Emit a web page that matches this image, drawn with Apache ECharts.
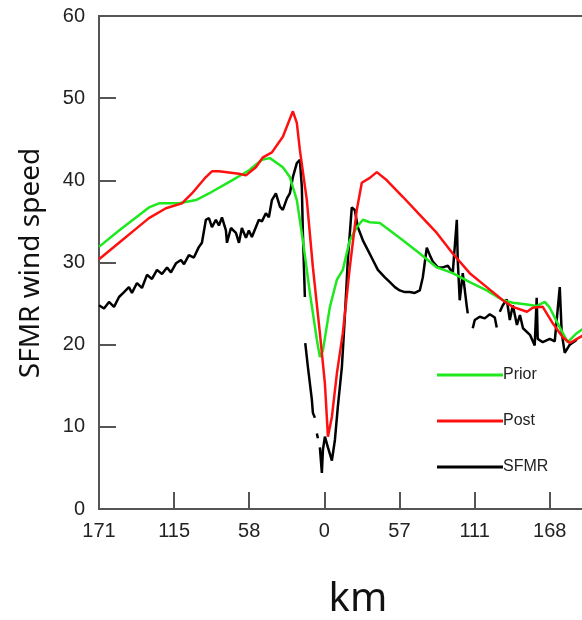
<!DOCTYPE html>
<html>
<head>
<meta charset="utf-8">
<script src="https://cdn.jsdelivr.net/npm/echarts@6/dist/echarts.min.js"></script>
<style>html,body{margin:0;padding:0;background:#fff}#c{width:582px;height:620px}</style>
</head>
<body>
<div id="c"></div>
<script>
// x positions in km along track (negative = left of centre), tick labels as printed
const xTickLabels = ['171', '115', '58', '0', '57', '111', '168'];
const yTicks = [0, 10, 20, 30, 40, 50, 60];

const priorX = [-171, -155.8, -133.1, -125.5, -110.3, -97.4, -87.6, -70.1, -57.3, -47.4, -41.3, -31.5, -26.2, -20.9, -16.3, -11.0, -5.7, -3.4, -1.1, 4.2, 9.5, 14.0, 19.3, 24.6, 29.2, 34.5, 42.1, 49.7, 59.5, 72.4, 85.3, 97.4, 110.3, 123.2, 135.4, 143.0, 153.7, 161.1, 167.2, 171.0, 178.6, 184.6, 191.5, 197];
const priorY = [31.9, 33.9, 36.7, 37.2, 37.2, 37.6, 38.4, 40.0, 41.2, 42.5, 42.7, 41.6, 40.4, 37.6, 32.7, 26.3, 20.6, 18.5, 19.3, 24.6, 27.9, 29.1, 32.7, 34.3, 35.2, 34.9, 34.8, 33.9, 32.7, 31.1, 29.4, 28.7, 27.6, 26.6, 25.4, 25.1, 24.9, 24.7, 25.2, 24.5, 22.1, 20.3, 21.4, 22.0];

const postX = [-171, -155.8, -146.0, -133.1, -120.2, -108.1, -100.5, -89.9, -85.3, -80.0, -64.8, -59.5, -52.0, -46.6, -39.8, -31.5, -23.9, -20.9, -18.6, -13.3, -8.7, -3.4, 0.4, 2.7, 5.7, 9.5, 14.0, 19.3, 24.6, 28.4, 34.5, 39.8, 47.4, 59.5, 72.4, 85.3, 97.4, 110.3, 123.2, 135.4, 143.0, 153.7, 158.1, 165.7, 173.3, 180.9, 186.2, 197];
const postY = [30.4, 32.4, 33.7, 35.4, 36.6, 37.2, 38.4, 40.4, 41.1, 41.1, 40.8, 40.6, 41.6, 42.8, 43.4, 45.3, 48.4, 47.0, 43.7, 37.6, 29.4, 21.4, 15.3, 8.8, 11.2, 16.5, 21.4, 29.4, 36.4, 39.7, 40.3, 41.0, 40.0, 38.0, 35.8, 33.6, 31.1, 28.7, 27.0, 25.4, 24.6, 24.0, 24.5, 24.6, 22.6, 20.9, 20.2, 21.2];

// SFMR observations; null marks a gap in the record
const sfmrX = [-171, -167.2, -163.4, -159.6, -155.8, -152.0, -148.3, -146.0, -142.2, -138.4, -134.6, -130.8, -127.0, -123.2, -119.4, -116.4, -112.6, -108.8, -106.5, -102.8, -99.0, -95.2, -92.9, -89.9, -87.6, -85.3, -82.3, -80.0, -77.7, -74.7, -73.9, -70.9, -67.1, -64.8, -62.6, -59.5, -57.3, -55.0, -52.0, -49.7, -47.4, -44.4, -42.1, -39.8, -36.8, -36.0, -33.7, -31.5, -28.4, -26.2, -23.9, -20.9, -18.6, -17.1, -16.3, -14.8,
  -14.6,
  -14.5, -12.5, -9.5, -8.7, -7.2,
  -6.5,
  -5.7, -4.9,
  -4.2,
  -3.4, -1.9, -1.1, 0.4, 2.7, 5.7, 8.0, 10.2, 13.3, 15.5, 17.8, 20.8, 23.1, 25.4, 29.2, 33.0, 36.8, 40.6, 45.9, 49.7, 53.5, 57.2, 61.0, 64.8, 68.6, 72.4, 74.7, 77.7, 80.0, 82.3, 86.1, 89.9, 93.7, 97.4, 100.5, 101.2, 102.7, 105.0, 108.1, 108.8,
  110.7,
  112.6, 114.1, 117.9, 121.7, 125.5, 129.3, 130.8,
  132.0,
  133.1, 135.4, 138.4, 140.7, 143.0, 146.1, 148.4, 150.7, 156.0, 159.6, 161.1, 161.9, 165.7, 171.0, 174.8, 178.6, 180.1, 182.4, 186.2, 191.5];
const sfmrY = [24.8, 24.4, 25.2, 24.6, 25.8, 26.4, 27.0, 26.3, 27.5, 26.9, 28.5, 28.0, 29.1, 28.6, 29.4, 28.8, 29.9, 30.3, 29.8, 30.9, 30.6, 31.9, 32.4, 35.2, 35.4, 34.3, 35.2, 34.5, 35.5, 33.9, 32.4, 34.2, 33.6, 32.4, 34.2, 33.0, 33.9, 33.1, 34.3, 35.2, 35.0, 36.0, 35.5, 37.6, 38.4, 38.2, 36.8, 36.4, 37.8, 38.4, 40.4, 42.1, 42.5, 39.2, 33.6, 25.8,
  null,
  20.2, 17.3, 13.3, 11.7, 11.1,
  null,
  9.2, 8.6,
  null,
  7.5, 4.4, 7.2, 8.8, 7.5, 5.9, 8.4, 12.4, 17.3, 23.3, 30.3, 36.7, 36.4, 34.3, 32.7, 31.5, 30.3, 29.1, 28.2, 27.6, 27.0, 26.6, 26.4, 26.4, 26.3, 26.6, 28.2, 31.8, 30.9, 30.1, 29.4, 29.4, 29.6, 28.7, 35.2, 30.3, 25.4, 28.7, 24.6, 23.8,
  null,
  22.0, 23.0, 23.4, 23.2, 23.7, 23.3, 22.1,
  null,
  24.0, 24.8, 25.5, 23.0, 24.8, 22.4, 23.6, 22.0, 21.2, 19.9, 25.7, 20.7, 20.3, 20.7, 20.4, 27.0, 21.4, 19.0, 20.0, 20.6];

function pairs(xs, ys) {
  return xs.map((x, i) => [x, ys[i] === null ? '-' : ys[i]]);
}

function xLabel(v) {
  const k = (v + 171) / 57;
  return Math.abs(k - Math.round(k)) < 1e-6 ? (xTickLabels[Math.round(k)] || '') : '';
}

const chart = echarts.init(document.getElementById('c'));
const axisCol = '#555';
chart.setOption({
  animation: false,
  backgroundColor: '#fff',
  grid: { left: 99, top: 16, right: -2, bottom: 111, show: true, borderColor: axisCol, borderWidth: 2,
    containLabel: false, outerBoundsMode: 'none' },
  legend: {
    orient: 'vertical', left: 437, top: 367, padding: 0,
    itemWidth: 66, itemHeight: 3, itemGap: 30,
    icon: 'rect',
    textStyle: { fontFamily: 'Liberation Sans', fontSize: 16, color: '#222', padding: [0, 0, 0, -5] },
    data: ['Prior', 'Post', 'SFMR']
  },
  graphic: [
    { type: 'text', x: 358, y: 600, style: { text: 'km', fontFamily: 'Noto Sans', fontSize: 40, fill: '#111', align: 'center', verticalAlign: 'middle' } },
    { type: 'text', x: 31, y: 263, rotation: Math.PI / 2, style: { text: 'SFMR wind speed', fontFamily: 'Noto Sans', fontSize: 28, fill: '#111', align: 'center', verticalAlign: 'middle' } }
  ],
  xAxis: {
    type: 'value', min: -171, max: 197, interval: 57,
    axisLine: { onZero: false, lineStyle: { color: axisCol, width: 2 } },
    axisTick: { inside: true, length: 17, lineStyle: { color: axisCol, width: 2 } },
    axisLabel: { margin: 12, fontFamily: 'Liberation Sans', fontSize: 20, color: '#222', showMaxLabel: false,
      formatter: xLabel },
    splitLine: { show: false }
  },
  yAxis: {
    type: 'value', min: 0, max: 60, interval: 10,
    axisLine: { onZero: false, lineStyle: { color: axisCol, width: 2 } },
    axisTick: { inside: true, length: 17, lineStyle: { color: axisCol, width: 2 } },
    axisLabel: { margin: 14, fontFamily: 'Liberation Sans', fontSize: 20, color: '#222',
      formatter: v => yTicks.includes(v) ? String(v) : '' },
    splitLine: { show: false }
  },
  series: [
    { name: 'Prior', type: 'line', data: pairs(priorX, priorY), symbol: 'none', lineStyle: { color: '#1ee81e', width: 2.5 }, itemStyle: { color: '#1ee81e' }, z: 3 },
    { name: 'Post', type: 'line', data: pairs(postX, postY), symbol: 'none', lineStyle: { color: '#ff1010', width: 2.5 }, itemStyle: { color: '#ff1010' }, z: 4 },
    { name: 'SFMR', type: 'line', data: pairs(sfmrX, sfmrY), symbol: 'none', connectNulls: false, lineStyle: { color: '#000', width: 2.5 }, itemStyle: { color: '#000' }, z: 2 }
  ]
});
</script>
</body>
</html>
